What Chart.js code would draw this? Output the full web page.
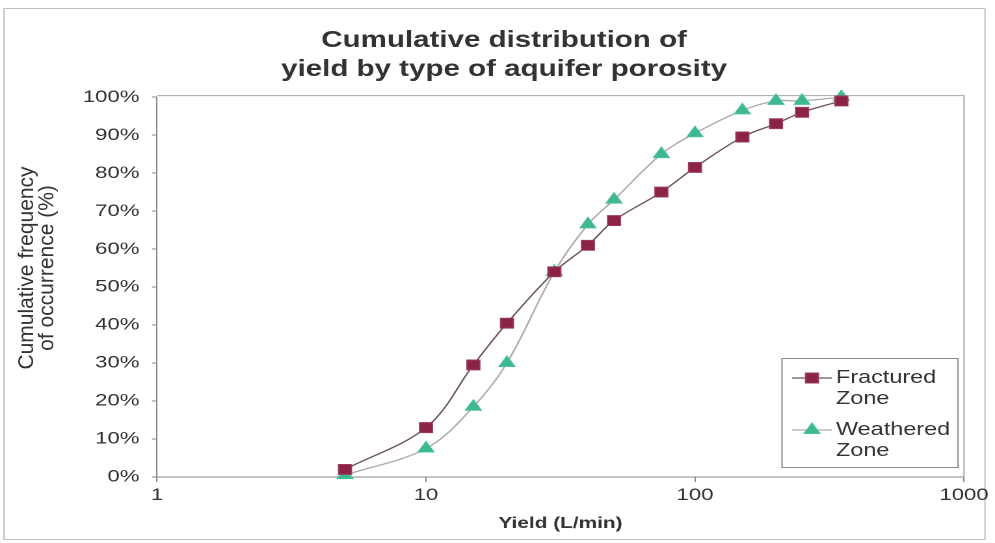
<!DOCTYPE html>
<html>
<head>
<meta charset="utf-8">
<script src="https://cdn.jsdelivr.net/npm/chart.js@4.4.1/dist/chart.umd.min.js"></script>
<style>
  html, body { margin: 0; padding: 0; background: #fff; overflow: hidden; }
  #wrap { position: absolute; left: 0; top: 0; width: 765px; height: 543px;
          transform: scaleX(1.30065); transform-origin: 0 0; }
</style>
</head>
<body>
<div id="wrap"><canvas id="c" width="765" height="543"></canvas></div>
<script>
// ---- data ----
const yields = [5, 10, 15, 20, 30, 40, 50, 75, 100, 150, 200, 250, 350];
const fractured = [2, 13, 29.5, 40.5, 54, 61, 67.5, 75, 81.5, 89.5, 93, 96, 99];
const weathered = [0.5, 7.5, 18.5, 30, 54, 66.5, 73, 85, 90.5, 96.5, 99, 99, 100];
const xTickValues = [1, 10, 100, 1000];
const seriesNames = [['Fractured', 'Zone'], ['Weathered', 'Zone']];
const titleLines = ['Cumulative distribution of', 'yield by type of aquifer porosity'];
const xTitle = 'Yield (L/min)';
const yTitleLines = ['Cumulative frequency', 'of occurrence (%)'];

// horizontal stretch of the reference picture
const S = 995 / 765;
const R = v => v / S;            // real-pixel x -> canvas x
const FONT = '"Liberation Sans", Arial, sans-serif';
const TEXT = '#333333';
const PAD_LEFT = 34;

const framePlugin = {
  id: 'frame',
  beforeDraw(chart) {
    const ctx = chart.ctx;
    ctx.save();
    ctx.fillStyle = '#ffffff';
    ctx.fillRect(0, 0, chart.width, chart.height);
    ctx.strokeStyle = '#bdbdbd';
    ctx.lineWidth = 1;
    ctx.strokeRect(R(4), 8.5, R(985) - R(4), 531);
    ctx.restore();
  },
  beforeDatasetsDraw(chart) {
    const ctx = chart.ctx, a = chart.chartArea;
    ctx.save();
    ctx.strokeStyle = '#a8a8a8';
    ctx.lineWidth = 1;
    ctx.beginPath();
    ctx.moveTo(a.left, a.top - 1.5);
    ctx.lineTo(a.right, a.top - 1.5);
    ctx.lineTo(a.right, a.bottom);
    ctx.stroke();
    ctx.restore();
  }
};

const yTitlePlugin = {
  id: 'yTitle',
  afterDraw(chart) {
    const ctx = chart.ctx;
    const xs = [R(27), R(47)];
    ctx.save();
    ctx.fillStyle = TEXT;
    ctx.font = '21px ' + FONT;
    ctx.textAlign = 'center';
    ctx.textBaseline = 'middle';
    yTitleLines.forEach((t, i) => {
      ctx.save();
      ctx.translate(xs[i], 268);
      ctx.rotate(-Math.PI / 2);
      ctx.scale(1, 0.8);
      ctx.fillText(t, 0, 0);
      ctx.restore();
    });
    ctx.restore();
  }
};

const legendPlugin = {
  id: 'boxLegend',
  afterDatasetsDraw(chart) {
    const ctx = chart.ctx;
    const bx = R(782), by = 358.5, bw = R(958) - R(782), bh = 109;
    ctx.save();
    ctx.fillStyle = '#ffffff';
    ctx.fillRect(bx, by, bw, bh);
    ctx.strokeStyle = '#8a8a8a';
    ctx.lineWidth = 1;
    ctx.strokeRect(bx, by, bw, bh);
    const rows = [378, 430];
    chart.data.datasets.forEach((ds, i) => {
      const ly = rows[i];
      ctx.strokeStyle = ds.borderColor;
      ctx.lineWidth = ds.borderWidth;
      ctx.beginPath();
      ctx.moveTo(R(792), ly);
      ctx.lineTo(R(832), ly);
      ctx.stroke();
      ctx.fillStyle = ds.pointBackgroundColor;
      ctx.strokeStyle = ds.pointBorderColor;
      ctx.lineWidth = ds.pointBorderWidth;
      Chart.helpers.drawPoint(ctx, { pointStyle: ds.pointStyle, radius: ds.pointRadius, rotation: 0, borderWidth: ds.pointBorderWidth }, R(812), ly);
      ctx.fillStyle = TEXT;
      ctx.font = '18px ' + FONT;
      ctx.textAlign = 'left';
      ctx.textBaseline = 'middle';
      seriesNames[i].forEach((t, j) => ctx.fillText(t, R(836), ly + j * 21));
    });
    ctx.restore();
  }
};

const toPoints = arr => yields.map((x, i) => ({ x: x, y: arr[i] }));

new Chart(document.getElementById('c'), {
  type: 'line',
  data: {
    datasets: [
      {
        label: seriesNames[0].join(' '),
        data: toPoints(fractured),
        borderColor: '#6e5560',
        borderWidth: 1.3,
        pointStyle: 'rect',
        pointRadius: 7,
        pointBackgroundColor: '#8b2347',
        pointBorderColor: '#9c3d5c',
        pointBorderWidth: 1,
        tension: 0.35,
        clip: false
      },
      {
        label: seriesNames[1].join(' '),
        data: toPoints(weathered),
        borderColor: '#ababab',
        borderWidth: 1.3,
        pointStyle: 'triangle',
        pointRadius: 7,
        pointBackgroundColor: '#3db893',
        pointBorderColor: '#4cbf9c',
        pointBorderWidth: 1,
        tension: 0.35,
        clip: false
      }
    ]
  },
  options: {
    responsive: false,
    animation: false,
    devicePixelRatio: 2,
    layout: { padding: { left: PAD_LEFT, right: 765 - R(964), top: 8, bottom: 6 } },
    plugins: {
      legend: { display: false },
      tooltip: { enabled: false },
      title: {
        display: true,
        text: titleLines,
        color: TEXT,
        font: { family: FONT, size: 22.7, weight: 'bold', lineHeight: 1.28 },
        padding: { top: 18, bottom: 13 }
      }
    },
    scales: {
      x: {
        type: 'logarithmic',
        min: 1, max: 1000,
        afterBuildTicks: s => { s.ticks = xTickValues.map(v => ({ value: v })); },
        afterFit: s => { s.height = 60; },
        ticks: { color: TEXT, font: { family: FONT, size: 17 }, padding: 3, maxRotation: 0, autoSkip: false,
                 callback: v => String(v) },
        grid: { drawOnChartArea: false, drawTicks: true, tickLength: 5, color: '#888' },
        border: { color: '#888', width: 1 },
        title: { display: true, text: xTitle, color: TEXT, font: { family: FONT, size: 16, weight: 'bold' }, padding: { top: 4, bottom: 4 } }
      },
      y: {
        type: 'linear',
        min: 0, max: 100,
        afterFit: s => { s.width = R(157) - PAD_LEFT; },
        ticks: { stepSize: 10, color: TEXT, font: { family: FONT, size: 17 }, padding: 9.5,
                 callback: v => v + '%' },
        grid: { drawOnChartArea: false, drawTicks: true, tickLength: 4, color: '#888' },
        border: { color: '#888', width: 1 }
      }
    }
  },
  plugins: [framePlugin, legendPlugin, yTitlePlugin]
});
</script>
</body>
</html>
